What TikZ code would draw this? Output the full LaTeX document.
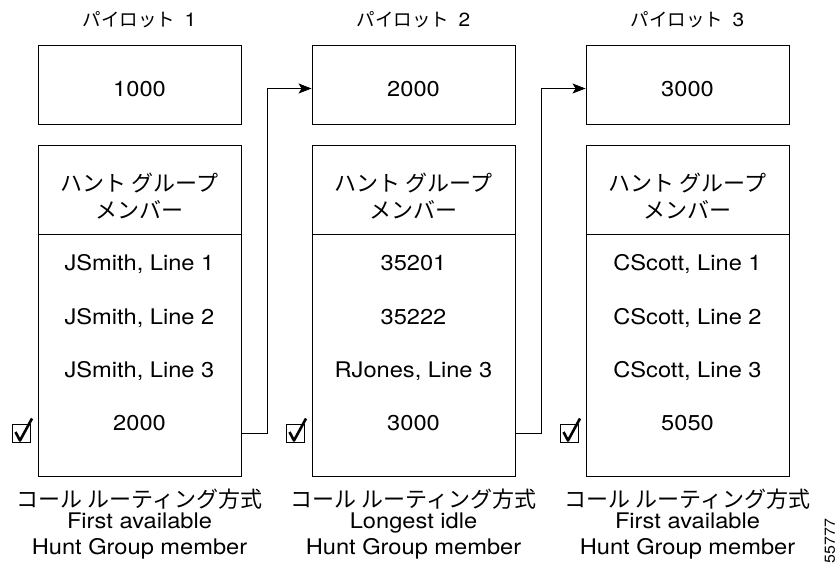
\documentclass[tikz,border=0pt]{standalone}
\usepackage{fontspec}
\setmainfont{TeX Gyre Heros}[FakeStretch=1.1]
\newfontfamily\jp{Noto Sans CJK JP}
\usetikzlibrary{arrows.meta}
\begin{document}
\begin{tikzpicture}[x=1pt,y=-1pt,
  every node/.style={inner sep=0pt},
  frame/.style={draw, line width=0.9pt, minimum width=203pt},
  txt/.style={font=\fontsize{21.5}{26}\selectfont, anchor=base},
  jtxt/.style={font=\jp\fontsize{22}{26}\selectfont},
  ttl/.style={font=\jp\fontsize{18.5}{21}\selectfont},
  link/.style={line width=0.9pt, -{Stealth[length=13pt,width=10pt,inset=3pt]}}
]
\useasboundingbox (0,0) rectangle (837,566);
\foreach \i/\cx/\num/\ra/\rb/\rc/\rd/\mode in {1/139.5/1000/{JSmith, Line 1}/{JSmith, Line 2}/{JSmith, Line 3}/2000/First available,
  2/413.5/2000/35201/35222/{RJones, Line 3}/3000/Longest idle,
  3/687.5/3000/{CScott, Line 1}/{CScott, Line 2}/{CScott, Line 3}/5050/First available}{
  \node[ttl] (t\i) at (\cx,20) {パイロット\hspace{0.5em}{\rmfamily\fontsize{19}{21}\selectfont\i}};
  \node[frame, minimum height=79pt] (p\i) at (\cx,84.5) {};
  \node[txt] (n\i) at (\cx,96.5) {\num};
  \node[frame, minimum height=331pt, anchor=north] (m\i) at (\cx,145) {};
  \draw[line width=0.9pt] ([yshift=-89pt]m\i.north west) -- ([yshift=-89pt]m\i.north east);
  \node[jtxt] (h\i) at (\cx,183) {ハント グループ};
  \node[jtxt] (k\i) at (\cx,210) {メンバー};
  \node[txt] (ra\i) at (\cx,270.5) {\ra};
  \node[txt] (rb\i) at (\cx,324.5) {\rb};
  \node[txt] (rc\i) at (\cx,377.5) {\rc};
  \node[txt] (rd\i) at (\cx,430.5) {\rd};
  \node[jtxt] (c\i) at (\cx,499) {コール ルーティング方式};
  \node[txt] (f\i) at (\cx,528) {\mode};
  \node[txt] (g\i) at (\cx,554) {Hunt Group member};
  \draw[line width=0.8pt] (\cx-127.5,424) rectangle (\cx-109.5,442);
  \draw[line width=2.6pt, line join=round] (\cx-124,432) -- (\cx-119.5,440.5) -- (\cx-107.5,418.5);
}
\coordinate (a1) at (267,433);
\coordinate (a2) at (541,433);
\draw[link] (a1 -| m1.east) -- (a1) |- ([yshift=-4pt]p2.west);
\draw[link] (a2 -| m2.east) -- (a2) |- ([yshift=-4pt]p3.west);
\node[rotate=90, font=\fontsize{14.5}{16}\selectfont] (id) at (830,541) {55777};
\end{tikzpicture}
\end{document}
